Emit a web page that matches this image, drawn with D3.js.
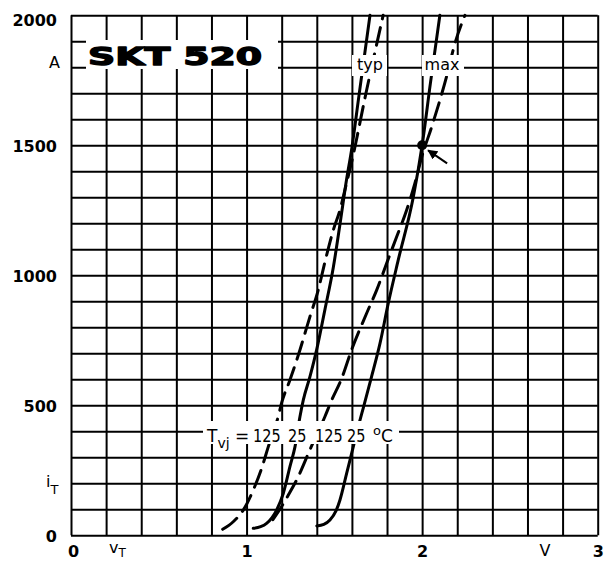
<!DOCTYPE html>
<html>
<head>
<meta charset="utf-8">
<script src="https://cdn.jsdelivr.net/npm/d3@7"></script>
<style>
  body { margin: 0; background: #fff; }
  svg text { font-family: "DejaVu Sans", sans-serif; fill: #000; }
</style>
</head>
<body>
<svg id="chart" width="610" height="562"></svg>
<script>
// tick labels
var xTicks = [0, 1, 2, 3],
    yTicks = [0, 500, 1000, 1500, 2000];

// on-state characteristics, [vT in V, iT in A]
var typ125 = [[0.864, 23], [0.924, 52], [0.981, 97], [1.038, 174], [1.086, 258], [1.124, 341],
  [1.18, 456], [1.2, 510], [1.247, 597], [1.304, 713], [1.361, 841], [1.408, 943], [1.446, 1050],
  [1.494, 1174], [1.532, 1251], [1.56, 1328], [1.6, 1440], [1.68, 1700], [1.778, 2000]];
var typ25 = [[1.038, 27], [1.08, 33], [1.114, 46], [1.145, 68], [1.171, 97], [1.209, 161],
  [1.247, 264], [1.276, 341], [1.304, 456], [1.323, 520], [1.361, 610], [1.399, 713], [1.446, 867],
  [1.494, 1030], [1.535, 1210], [1.57, 1370], [1.598, 1482], [1.64, 1690], [1.703, 2000]];
var max125 = [[1.15, 60], [1.19, 100], [1.238, 155], [1.294, 225], [1.361, 329], [1.446, 456],
  [1.485, 520], [1.542, 604], [1.598, 713], [1.684, 854], [1.741, 943], [1.798, 1046], [1.855, 1148],
  [1.912, 1251], [1.959, 1354], [2.0, 1460], [2.054, 1570], [2.139, 1764], [2.187, 1892], [2.244, 2000]];
var max25 = [[1.40, 36], [1.44, 42], [1.475, 59], [1.51, 95], [1.532, 136], [1.57, 238], [1.608, 341],
  [1.646, 443], [1.665, 490], [1.712, 610], [1.76, 738], [1.807, 892], [1.864, 1059], [1.95, 1302],
  [2.0, 1500], [2.047, 1738], [2.101, 2000]];
var marked = [2.0, 1500];

var curves = [
  { pts: typ125, dash: true },
  { pts: typ25, dash: false },
  { pts: max125, dash: true },
  { pts: max25, dash: false }
];

var svg = d3.select("#chart");

var x = d3.scaleLinear().domain([0, 3]).range([71, 597.7]),
    y = d3.scaleLinear().domain([0, 2000]).range([535.3, 15.3]);

// grid, 0.2 V by 100 A
var gridG = svg.append("g").attr("class", "grid");
gridG.append("g")
  .attr("transform", "translate(0," + y(0) + ")")
  .call(d3.axisBottom(x).tickValues(d3.range(0, 3.001, 0.2)).tickSize(-(y(0) - y(2000))).tickFormat(""));
gridG.append("g")
  .attr("transform", "translate(" + x(0) + ",0)")
  .call(d3.axisLeft(y).tickValues(d3.range(0, 2001, 100)).tickSize(-(x(3) - x(0))).tickFormat(""));
gridG.selectAll(".domain").remove();
gridG.selectAll("line").attr("stroke", "#000").attr("stroke-width", 2);

var line = d3.line()
  .x(function(d) { return x(d[0]); })
  .y(function(d) { return y(d[1]); })
  .curve(d3.curveMonotoneX);

svg.append("g").attr("class", "curves")
  .selectAll("path")
  .data(curves)
  .enter()
  .append("path")
    .attr("d", function(c) { return line(c.pts); })
    .attr("fill", "none")
    .attr("stroke", "#000")
    .attr("stroke-width", 3)
    .attr("stroke-linecap", "round")
    .attr("stroke-dasharray", function(c) { return c.dash ? "18,9" : null; });

// white patches behind the inline labels
var patches = [[86, 40, 192, 29], [352, 55, 35, 21], [422, 55, 42, 21], [203, 421, 196, 23], [216, 444, 16, 8]];
svg.append("g").selectAll("rect")
  .data(patches)
  .enter()
  .append("rect")
    .attr("x", function(p) { return p[0]; })
    .attr("y", function(p) { return p[1]; })
    .attr("width", function(p) { return p[2]; })
    .attr("height", function(p) { return p[3]; })
    .attr("fill", "#fff");

// axis labels
var yAxis = svg.append("g")
  .attr("transform", "translate(" + x(0) + ",0)")
  .call(d3.axisLeft(y).tickValues(yTicks).tickSize(0).tickPadding(14).tickFormat(d3.format("d")));
var xAxis = svg.append("g")
  .attr("transform", "translate(0," + y(0) + ")")
  .call(d3.axisBottom(x).tickValues(xTicks).tickSize(0).tickPadding(10).tickFormat(d3.format("d")));
svg.selectAll(".domain").remove();
yAxis.selectAll("text")
  .attr("dy", function(d) { return d === 2000 ? "0.62em" : "0.38em"; });
svg.selectAll(".tick text")
  .style("font-family", "'DejaVu Sans', sans-serif")
  .style("font-size", "16px")
  .style("font-weight", "bold")
  .attr("fill", "#000");
xAxis.selectAll(".tick text").attr("dx", function(d) { return d === 0 ? 2 : 0; });

svg.append("text").attr("x", 60).attr("y", 68).attr("text-anchor", "end")
  .style("font-size", "16px").text("A");
svg.append("text").attr("x", 545).attr("y", 556).attr("text-anchor", "middle")
  .style("font-size", "16px").text("V");

var vT = svg.append("text").attr("x", 109).attr("y", 553).style("font-size", "16px");
vT.append("tspan").text("v");
vT.append("tspan").attr("dy", 4).style("font-size", "12px").text("T");

var iT = svg.append("text").attr("x", 46).attr("y", 487).style("font-size", "16px");
iT.append("tspan").text("i");
iT.append("tspan").attr("dy", 7).style("font-size", "13px").text("T");

// type title
svg.append("text")
  .attr("x", 88).attr("y", 65)
  .attr("textLength", 174).attr("lengthAdjust", "spacingAndGlyphs")
  .style("font-size", "25px").style("font-weight", "900")
  .attr("stroke", "#000").attr("stroke-width", 1.4).attr("stroke-linejoin", "round")
  .text("SKT 520");

svg.append("text").attr("x", 370).attr("y", 70).attr("text-anchor", "middle")
  .style("font-size", "16px").text("typ");
svg.append("text").attr("x", 442).attr("y", 70).attr("text-anchor", "middle")
  .style("font-size", "16px").text("max");

// junction temperature row
var tvj = svg.append("text").attr("x", 207).attr("y", 442).style("font-size", "17px");
tvj.append("tspan").text("T");
tvj.append("tspan").attr("dy", 6).style("font-size", "14px").text("vj");
tvj.append("tspan").attr("dy", -6).text(" = ");
var temps = [["125", 253], ["25", 288], ["125", 315], ["25", 347]];
svg.append("g").selectAll("text")
  .data(temps)
  .enter()
  .append("text")
    .attr("x", function(t) { return t[1]; })
    .attr("y", 442)
    .attr("textLength", function(t) { return t[0].length * 9.2; })
    .attr("lengthAdjust", "spacingAndGlyphs")
    .style("font-size", "17px")
    .text(function(t) { return t[0]; });
var degC = svg.append("text").attr("x", 373).attr("y", 442).style("font-size", "17px");
degC.append("tspan").attr("dy", -7).style("font-size", "13px").text("o");
degC.append("tspan").attr("dy", 7).text("C");

// 1500 A point with arrow
svg.append("defs").append("marker")
  .attr("id", "head")
  .attr("viewBox", "0 0 10 10")
  .attr("refX", 9).attr("refY", 5)
  .attr("markerWidth", 5).attr("markerHeight", 5)
  .attr("orient", "auto")
  .append("path").attr("d", "M0,0L10,5L0,10Z").attr("fill", "#000");

svg.append("circle")
  .attr("cx", x(marked[0])).attr("cy", y(marked[1]))
  .attr("r", 5).attr("fill", "#000");
svg.append("line")
  .attr("x1", x(marked[0]) + 25).attr("y1", y(marked[1]) + 18)
  .attr("x2", x(marked[0]) + 6).attr("y2", y(marked[1]) + 5)
  .attr("stroke", "#000").attr("stroke-width", 2)
  .attr("marker-end", "url(#head)");
</script>
</body>
</html>
